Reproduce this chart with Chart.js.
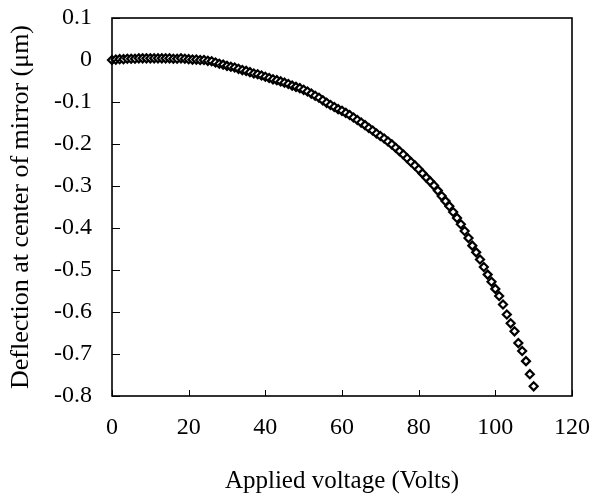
<!DOCTYPE html>
<html>
<head>
<meta charset="utf-8">
<script src="https://cdn.jsdelivr.net/npm/chart.js@4"></script>
<style>
  html, body { margin: 0; padding: 0; background: #fff; }
  #wrap { width: 592px; height: 494px; }
</style>
</head>
<body>
<div id="wrap"><canvas id="deflectionChart" width="592" height="494"></canvas></div>
<script>
// applied voltage (V), one reading per volt
const voltage = [];
for (let v = 0; v <= 110; v++) voltage.push(v);

// deflection at mirror centre (um)
const deflection = [
  0.000, 0.001, 0.002, 0.002, 0.003, 0.003, 0.003, 0.004, 0.004, 0.004,
  0.004, 0.004, 0.004, 0.004, 0.004, 0.004, 0.003, 0.003, 0.004, 0.003,
  0.002, 0.001, 0.001, 0.000, 0.000, -0.002, -0.003, -0.006, -0.009, -0.011,
  -0.014, -0.016, -0.018, -0.021, -0.024, -0.026, -0.029, -0.032, -0.034, -0.037,
  -0.040, -0.043, -0.046, -0.048, -0.051, -0.054, -0.057, -0.061, -0.064, -0.067,
  -0.071, -0.075, -0.080, -0.085, -0.090, -0.096, -0.102, -0.107, -0.112, -0.117,
  -0.121, -0.126, -0.131, -0.137, -0.143, -0.149, -0.155, -0.162, -0.168, -0.175,
  -0.181, -0.187, -0.194, -0.201, -0.209, -0.217, -0.225, -0.234, -0.243, -0.251,
  -0.260, -0.270, -0.280, -0.289, -0.299, -0.311, -0.324, -0.336, -0.348, -0.362,
  -0.376, -0.391, -0.407, -0.424, -0.442, -0.458, -0.475, -0.493, -0.511, -0.528,
  -0.545, -0.562, -0.582, -0.606, -0.627, -0.646, -0.674, -0.693, -0.717, -0.748,
  -0.777
];

const xTicks = [0, 20, 40, 60, 80, 100, 120];
const yTicks = [0.1, 0, -0.1, -0.2, -0.3, -0.4, -0.5, -0.6, -0.7, -0.8];

const points = voltage.map((v, i) => ({ x: v, y: deflection[i] }));

const serif = "'Liberation Serif', 'Times New Roman', serif";

// frame round the plot plus inward tick marks
const framePlugin = {
  id: 'frame',
  afterDraw(chart) {
    const { ctx, chartArea: a, scales } = chart;
    ctx.save();
    ctx.strokeStyle = '#000';
    ctx.lineWidth = 1.6;
    ctx.strokeRect(a.left, a.top, a.right - a.left, a.bottom - a.top);
    ctx.lineWidth = 1;
    ctx.beginPath();
    xTicks.forEach(t => {
      const px = Math.round(scales.x.getPixelForValue(t)) + 0.5;
      ctx.moveTo(px, a.bottom);
      ctx.lineTo(px, a.bottom - 6);
    });
    yTicks.forEach(t => {
      const py = Math.round(scales.y.getPixelForValue(t)) + 0.5;
      ctx.moveTo(a.left, py);
      ctx.lineTo(a.left + 8, py);
    });
    ctx.stroke();
    ctx.restore();
  }
};

new Chart(document.getElementById('deflectionChart'), {
  type: 'scatter',
  data: {
    datasets: [{
      data: points,
      pointStyle: 'rectRot',
      pointRadius: 4,
      pointBorderWidth: 2.2,
      pointBorderColor: '#000',
      pointBackgroundColor: '#fff',
      showLine: false,
      clip: false
    }]
  },
  options: {
    responsive: false,
    animation: false,
    layout: { padding: { left: 0, right: 20, top: 18, bottom: 0 } },
    plugins: { legend: { display: false }, tooltip: { enabled: false } },
    scales: {
      x: {
        type: 'linear',
        min: 0,
        max: 120,
        afterFit(scale) {
          scale.height = 98;
          scale.paddingLeft = 0;
          scale.paddingRight = 0;
        },
        afterBuildTicks(scale) { scale.ticks = xTicks.map(v => ({ value: v })); },
        grid: { display: false, drawTicks: false },
        border: { display: false },
        ticks: { color: '#000', padding: 17, maxRotation: 0, font: { family: serif, size: 24 } },
        title: {
          display: true,
          text: 'Applied voltage (Volts)',
          color: '#000',
          font: { family: serif, size: 25, lineHeight: 1.0 },
          padding: { top: 0, bottom: 0 }
        }
      },
      y: {
        type: 'linear',
        min: -0.8,
        max: 0.1,
        afterFit(scale) {
          scale.width = 112;
          scale.paddingTop = 0;
          scale.paddingBottom = 0;
        },
        afterBuildTicks(scale) { scale.ticks = yTicks.map(v => ({ value: v })); },
        grid: { display: false, drawTicks: false },
        border: { display: false },
        ticks: {
          color: '#000',
          padding: 20,
          font: { family: serif, size: 24 },
          callback: v => String(Math.round(v * 10) / 10)
        },
        title: {
          display: true,
          text: 'Deflection at center of mirror (\u03bcm)',
          color: '#000',
          font: { family: serif, size: 26, lineHeight: 1.2 },
          padding: { top: 6, bottom: 0 }
        }
      }
    }
  },
  plugins: [framePlugin]
});
</script>
</body>
</html>
